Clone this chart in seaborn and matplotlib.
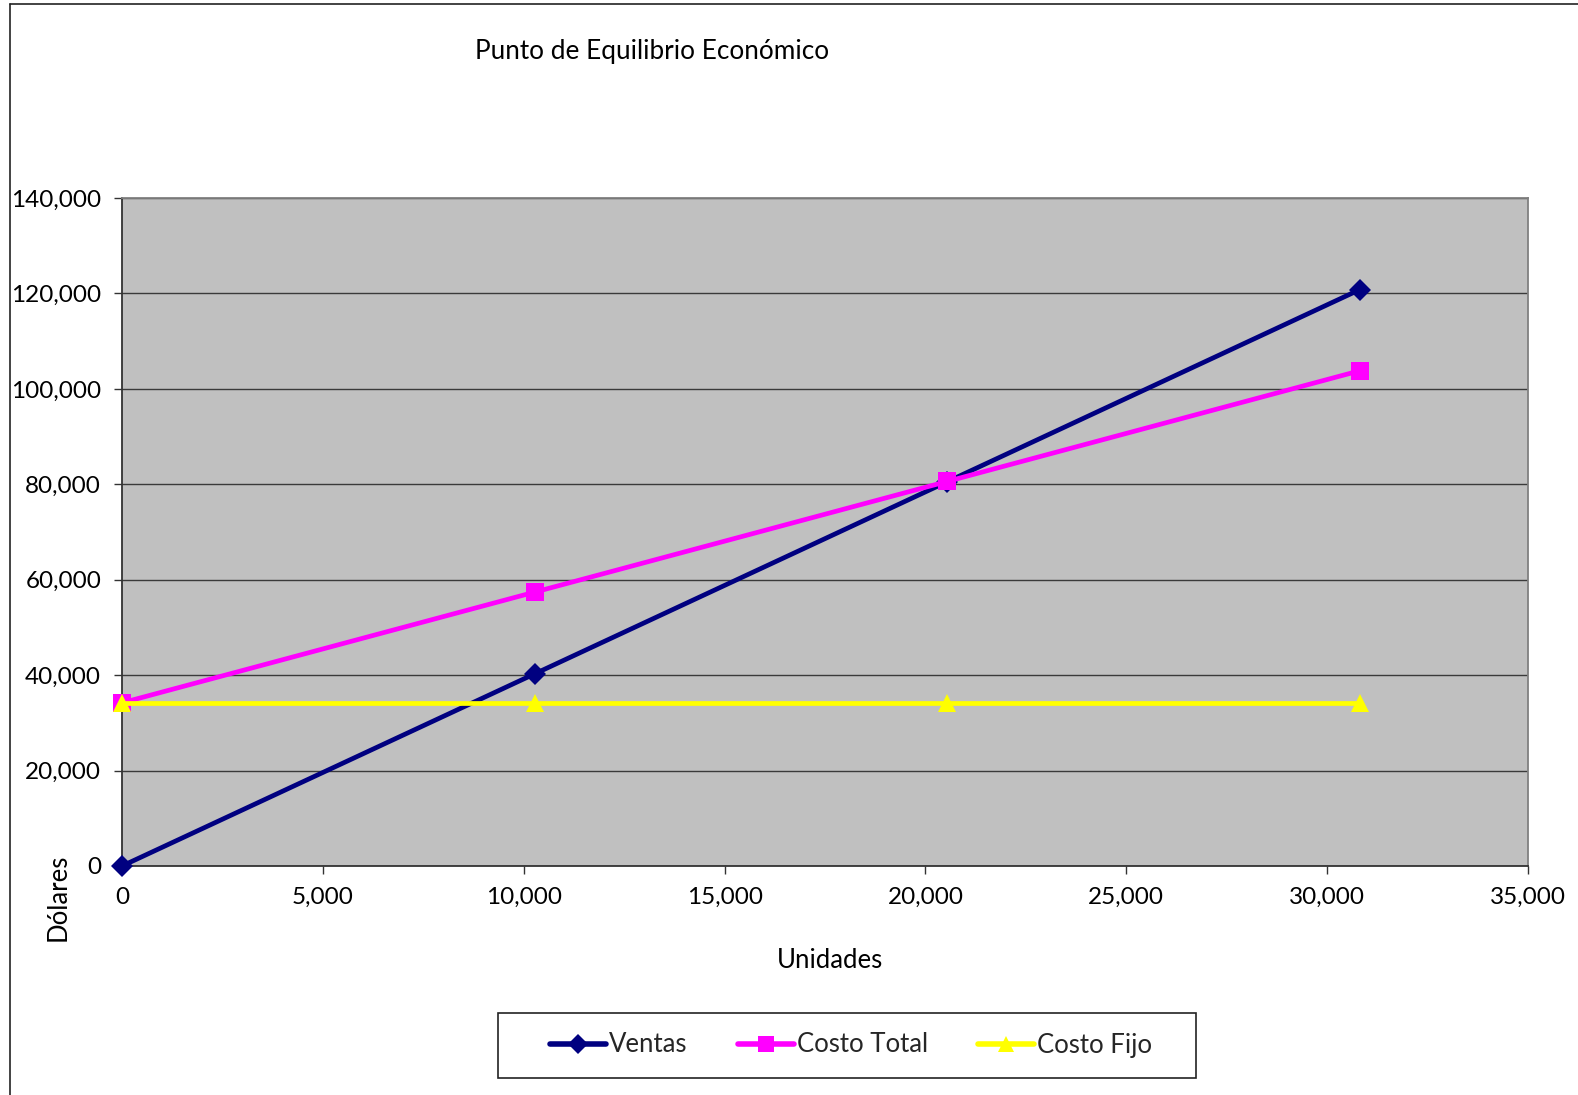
import matplotlib
matplotlib.use("Agg")
import matplotlib.pyplot as plt
from matplotlib.lines import Line2D
from matplotlib.patches import Rectangle
import seaborn as sns
import pandas as pd

# Break-even data
unidades = [0, 10272, 20544, 30816]
ventas = [0, 40270, 80540, 120810]
costo_total = [34200, 57400, 80600, 103800]
costo_fijo = [34200, 34200, 34200, 34200]

series_names = ["Ventas", "Costo Total", "Costo Fijo"]
series_colors = ["#000080", "#FF00FF", "#FFFF00"]
series_markers = ["D", "s", "^"]
series_sizes = [11, 13, 13]

sns.set_theme(style="white")
plt.rcParams["font.family"] = ["Lato", "DejaVu Sans"]

W, H = 1578, 1095
fig = plt.figure(figsize=(W / 100, H / 100), dpi=100)
ax = fig.add_axes([122 / W, 1 - 866 / H, (1528 - 122) / W, (866 - 198) / H])
ax.set_facecolor("#C0C0C0")

df = pd.DataFrame({
    "Unidades": unidades * 3,
    "Dolares": ventas + costo_total + costo_fijo,
    "Serie": sum([[n] * len(unidades) for n in series_names], []),
})

for name, col, mk, ms in zip(series_names, series_colors, series_markers, series_sizes):
    sub = df[df["Serie"] == name]
    sns.lineplot(data=sub, x="Unidades", y="Dolares", ax=ax, color=col,
                 linewidth=3.4, marker=mk, markersize=ms, markeredgewidth=0,
                 clip_on=False, zorder=3, legend=False)

ax.set_xlim(0, 35000)
ax.set_ylim(0, 140000)
ax.set_xticks(range(0, 35001, 5000))
ax.set_yticks(range(0, 140001, 20000))
ax.xaxis.set_major_formatter(matplotlib.ticker.StrMethodFormatter("{x:,.0f}"))
ax.yaxis.set_major_formatter(matplotlib.ticker.StrMethodFormatter("{x:,.0f}"))
ax.grid(axis="y", color="#3a3a3a", linewidth=1.0)
ax.grid(axis="x", visible=False)
ax.set_axisbelow(True)
ax.tick_params(axis="both", direction="out", length=6, width=1, color="#333333",
               labelsize=17.5, labelcolor="black", left=True, bottom=True)
ax.tick_params(axis="y", pad=9)
ax.tick_params(axis="x", pad=9)
ax.set_xlabel("")
ax.set_ylabel("")
for side in ["left", "bottom"]:
    ax.spines[side].set_color("#333333")
    ax.spines[side].set_linewidth(1.3)
for side in ["top", "right"]:
    ax.spines[side].set_color("#808080")
    ax.spines[side].set_linewidth(1.3)

# Titles and labels
fig.text(652 / W, 1 - 52 / H, "Punto de Equilibrio Económico", ha="center", va="center",
         fontsize=18.8, color="black")
fig.text(830 / W, 1 - 961 / H, "Unidades", ha="center", va="center",
         fontsize=18.5, color="black")
fig.text(58 / W, 1 - 897 / H, "Dólares", ha="center", va="center", rotation=90,
         fontsize=18.5, color="black")

# Outer chart border
fig.add_artist(Line2D([10 / W, 10 / W], [0, 1 - 4 / H], color="#222222", linewidth=1.2))
fig.add_artist(Line2D([10 / W, 1], [1 - 4 / H, 1 - 4 / H], color="#222222", linewidth=1.2))

# Legend box
fig.add_artist(Rectangle((498 / W, 1 - 1078 / H), (1196 - 498) / W, (1078 - 1013) / H,
                         transform=fig.transFigure, facecolor="white",
                         edgecolor="#222222", linewidth=1.2, zorder=4))

# Legend entries
handles = [Line2D([0], [0], color=c, linewidth=4, marker=m, markersize=s * 0.9,
                  markeredgewidth=0) for c, m, s in zip(series_colors, series_markers, series_sizes)]
leg = fig.legend(handles, series_names, loc="center", ncol=3,
                 bbox_to_anchor=(851 / W, 1 - 1045 / H), fontsize=18.5,
                 frameon=False, handlelength=2.2, handletextpad=0.1,
                 columnspacing=1.95, borderpad=0.2)
leg.set_zorder(5)

fig.savefig("out.png", dpi=100, facecolor="white")
